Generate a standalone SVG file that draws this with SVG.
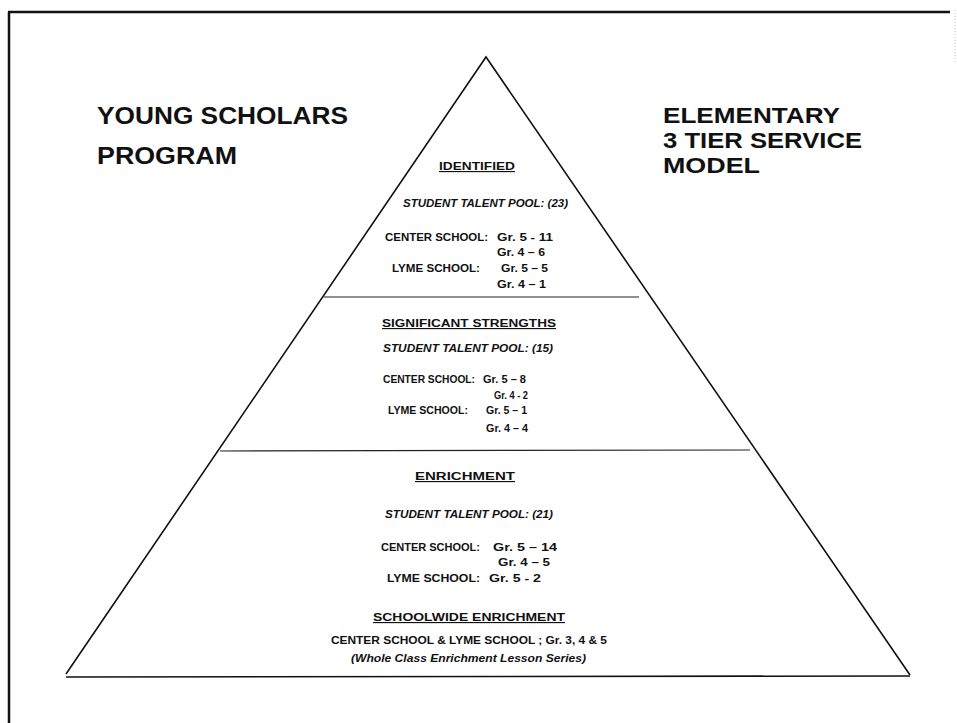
<svg xmlns="http://www.w3.org/2000/svg" width="957" height="723" viewBox="0 0 957 723">
<style>
  .t { font-family: "Liberation Sans", Arial, sans-serif; fill: #111; }
  .big { font-size: 24px; font-weight: bold; }
  .big2 { font-size: 22px; font-weight: bold; }
  .hd { font-size: 11.5px; font-weight: bold; text-decoration: underline; }
  .pool { font-size: 11px; font-weight: bold; font-style: italic; }
  .sm { font-size: 10.5px; font-weight: bold; }
  .edge { stroke: #111; stroke-width: 1.6; fill: none; }
  .div { stroke: #222; stroke-width: 1.2; fill: none; }
</style>
<rect width="957" height="723" fill="#fff"/>
<g id="frame">
  <line x1="9" y1="12" x2="9" y2="723" stroke="#111" stroke-width="2.5"/>
  <line x1="8" y1="12" x2="950" y2="12" stroke="#111" stroke-width="2.5"/>
  <line x1="955" y1="10" x2="955" y2="62" stroke="#bbb" stroke-width="1" stroke-dasharray="1 2"/>
</g>
<g id="title-left">
  <text class="t big" x="97" y="124" textLength="251" lengthAdjust="spacingAndGlyphs">YOUNG SCHOLARS</text>
  <text class="t big" x="97" y="164" textLength="140" lengthAdjust="spacingAndGlyphs">PROGRAM</text>
</g>
<g id="title-right">
  <text class="t big2" x="663" y="123" textLength="177" lengthAdjust="spacingAndGlyphs">ELEMENTARY</text>
  <text class="t big2" x="663" y="148" textLength="199" lengthAdjust="spacingAndGlyphs">3 TIER SERVICE</text>
  <text class="t big2" x="663" y="173" textLength="97" lengthAdjust="spacingAndGlyphs">MODEL</text>
</g>
<g id="pyramid">
  <polyline class="edge" points="66,674 486,57 910,675"/>
  <line class="edge" x1="66" y1="677" x2="910" y2="676"/>
</g>
<g id="connectors">
  <line class="div" x1="324" y1="297" x2="639" y2="297"/>
  <line class="div" x1="220" y1="451" x2="750" y2="450"/>
</g>
<g id="tier-identified">
  <text class="t hd" x="439" y="170" textLength="76" lengthAdjust="spacingAndGlyphs">IDENTIFIED</text>
  <text class="t pool" x="403" y="207" textLength="165" lengthAdjust="spacingAndGlyphs">STUDENT TALENT POOL: (23)</text>
  <text class="t sm" x="385" y="241" textLength="103" lengthAdjust="spacingAndGlyphs">CENTER SCHOOL:</text>
  <text class="t sm" x="497" y="241" textLength="56" lengthAdjust="spacingAndGlyphs">Gr. 5  - 11</text>
  <text class="t sm" x="497" y="256" textLength="48" lengthAdjust="spacingAndGlyphs">Gr. 4 – 6</text>
  <text class="t sm" x="392" y="272" textLength="88" lengthAdjust="spacingAndGlyphs">LYME SCHOOL:</text>
  <text class="t sm" x="501" y="272" textLength="47" lengthAdjust="spacingAndGlyphs">Gr. 5 – 5</text>
  <text class="t sm" x="497" y="288" textLength="49" lengthAdjust="spacingAndGlyphs">Gr. 4 – 1</text>
</g>
<g id="tier-significant">
  <text class="t hd" x="382" y="327" textLength="174" lengthAdjust="spacingAndGlyphs">SIGNIFICANT STRENGTHS</text>
  <text class="t pool" x="383" y="352" textLength="170" lengthAdjust="spacingAndGlyphs">STUDENT TALENT POOL: (15)</text>
  <text class="t sm" x="383" y="383" textLength="92" lengthAdjust="spacingAndGlyphs">CENTER SCHOOL:</text>
  <text class="t sm" x="483" y="383" textLength="43" lengthAdjust="spacingAndGlyphs">Gr. 5 – 8</text>
  <text class="t sm" x="494" y="399" textLength="34" lengthAdjust="spacingAndGlyphs">Gr. 4 - 2</text>
  <text class="t sm" x="388" y="414" textLength="80" lengthAdjust="spacingAndGlyphs">LYME SCHOOL:</text>
  <text class="t sm" x="486" y="414" textLength="41" lengthAdjust="spacingAndGlyphs">Gr. 5 – 1</text>
  <text class="t sm" x="486" y="432" textLength="42" lengthAdjust="spacingAndGlyphs">Gr. 4 – 4</text>
</g>
<g id="tier-enrichment">
  <text class="t hd" x="415" y="480" textLength="100" lengthAdjust="spacingAndGlyphs">ENRICHMENT</text>
  <text class="t pool" x="385" y="518" textLength="168" lengthAdjust="spacingAndGlyphs">STUDENT TALENT POOL: (21)</text>
  <text class="t sm" x="381" y="551" textLength="99" lengthAdjust="spacingAndGlyphs">CENTER SCHOOL:</text>
  <text class="t sm" x="493" y="551" textLength="64" lengthAdjust="spacingAndGlyphs">Gr. 5 – 14</text>
  <text class="t sm" x="498" y="566" textLength="52" lengthAdjust="spacingAndGlyphs">Gr. 4 – 5</text>
  <text class="t sm" x="387" y="582" textLength="93" lengthAdjust="spacingAndGlyphs">LYME SCHOOL:</text>
  <text class="t sm" x="489" y="582" textLength="52" lengthAdjust="spacingAndGlyphs">Gr. 5 - 2</text>
</g>
<g id="tier-schoolwide">
  <text class="t hd" x="373" y="621" textLength="192" lengthAdjust="spacingAndGlyphs">SCHOOLWIDE ENRICHMENT</text>
  <text class="t sm" x="331" y="644" textLength="276" lengthAdjust="spacingAndGlyphs">CENTER SCHOOL &amp; LYME SCHOOL ;  Gr. 3, 4 &amp; 5</text>
  <text class="t pool" x="351" y="662" textLength="235" lengthAdjust="spacingAndGlyphs">(Whole Class Enrichment Lesson Series)</text>
</g>
</svg>
